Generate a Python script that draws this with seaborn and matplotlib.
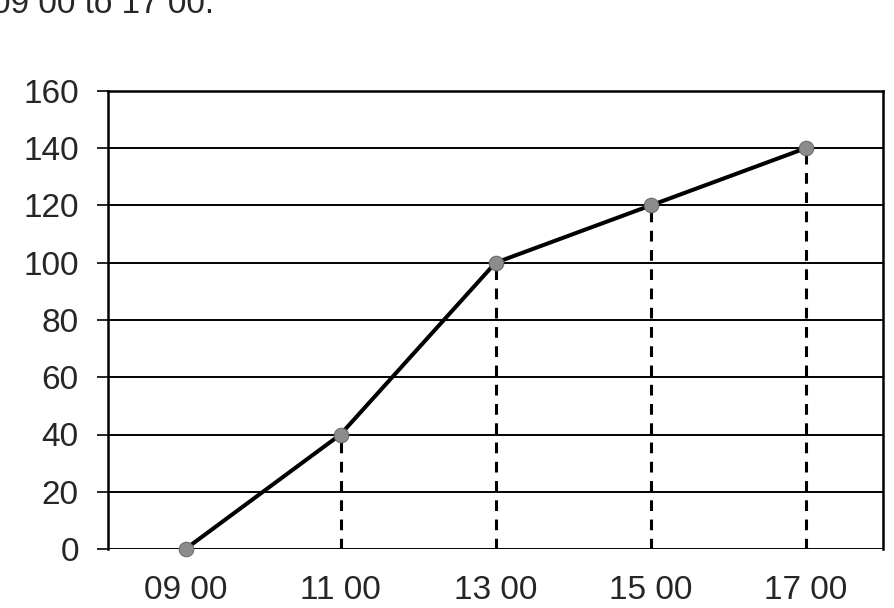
import numpy as np
import pandas as pd
import matplotlib.pyplot as plt
import seaborn as sns

# Values
times = ['09 00', '11 00', '13 00', '15 00', '17 00']
totals = [0, 40, 100, 120, 140]
y_ticks = [0, 20, 40, 60, 80, 100, 120, 140, 160]

sns.set_style('white')
plt.rcParams['font.family'] = ['Liberation Sans', 'DejaVu Sans']

df = pd.DataFrame({'pos': np.arange(len(times)), 'total': totals})

fig = plt.figure(figsize=(8.94, 6.08), dpi=100)
ax = fig.add_axes([108 / 894, 1 - 549 / 608, 775 / 894, 458 / 608])

# Gridlines
for v in y_ticks:
    ax.axhline(v, color='black', lw=1.4, zorder=1)

# Dashed drop lines from each point down to zero
for x, y in zip(df['pos'][1:], df['total'][1:]):
    ax.plot([x, x], [0, y], color='black', lw=2.2, ls=(0, (3.5, 2.8)), zorder=2)

sns.lineplot(data=df, x='pos', y='total', ax=ax, color='black', lw=2.9,
             marker='o', markersize=10.5, markerfacecolor='#8c8c8c',
             markeredgecolor='#6a6a6a', sort=False, zorder=3, clip_on=False)

ax.set_xlim(-0.5, len(times) - 0.5)
ax.set_ylim(0, 160)
ax.set_xticks(df['pos'])
ax.set_xticklabels(times)
ax.set_yticks(y_ticks)
ax.set_xlabel('')
ax.set_ylabel('')
ax.tick_params(axis='y', direction='out', length=8, width=1.4, left=True,
               labelsize=24, pad=13)
ax.tick_params(axis='x', length=0, labelsize=24, pad=19)
for side in ['left', 'right', 'top']:
    ax.spines[side].set_color('black')
    ax.spines[side].set_linewidth(1.8)
ax.spines['bottom'].set_visible(False)

fig.text(-0.009, 1 - 13 / 608, '09 00 to 17 00.', fontsize=24,
         va='baseline', ha='left')

fig.savefig('out.png', dpi=100)
